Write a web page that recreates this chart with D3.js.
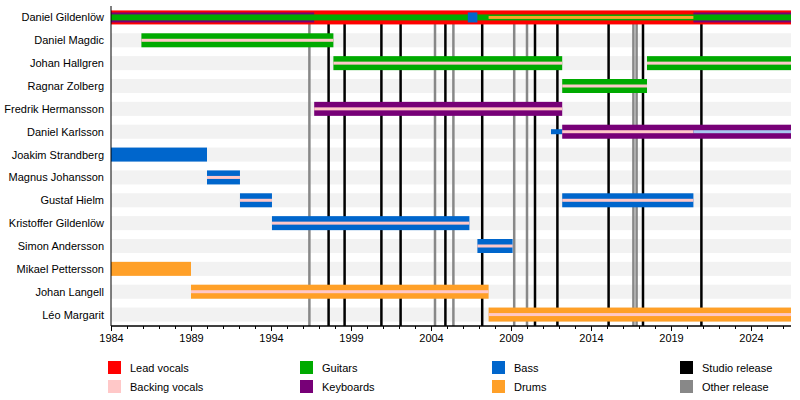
<!DOCTYPE html>
<html><head><meta charset="utf-8">
<script src="https://cdn.jsdelivr.net/npm/d3@7"></script>
<style>body{margin:0;background:#fff}text{font-family:"Liberation Sans",Arial,sans-serif;font-size:11px;fill:#000}</style>
</head><body><svg id="c" width="800" height="400"></svg>
<script>
const members=["Daniel Gildenlöw","Daniel Magdic","Johan Hallgren","Ragnar Zolberg","Fredrik Hermansson","Daniel Karlsson","Joakim Strandberg","Magnus Johansson","Gustaf Hielm","Kristoffer Gildenlöw","Simon Andersson","Mikael Pettersson","Johan Langell","Léo Margarit"];
const colors={lead:"#ff0000",backing:"#ffc8c8",guitars:"#00aa00",keys:"#770077",bass:"#0066cc",drums:"#ffa028",studio:"#000000",other:"#888888"};
// [member, role, start, end, layer]
const periods=[
 ["Daniel Gildenlöw","lead",1984,2026.5,0],
 ["Daniel Gildenlöw","keys",1984,1996.7,1],
 ["Daniel Gildenlöw","keys",2020.4,2026.5,1],
 ["Daniel Gildenlöw","guitars",1984,2026.5,2],
 ["Daniel Gildenlöw","bass",2006.3,2006.9,1],
 ["Daniel Gildenlöw","drums",2007.6,2020.4,3],
 ["Daniel Magdic","guitars",1985.9,1997.9,0],["Daniel Magdic","backing",1985.9,1997.9,3],
 ["Johan Hallgren","guitars",1997.9,2012.2,0],["Johan Hallgren","backing",1997.9,2012.2,3],
 ["Johan Hallgren","guitars",2017.5,2026.5,0],["Johan Hallgren","backing",2017.5,2026.5,3],
 ["Ragnar Zolberg","guitars",2012.2,2017.5,0],["Ragnar Zolberg","backing",2012.2,2017.5,3],
 ["Fredrik Hermansson","keys",1996.7,2012.2,0],["Fredrik Hermansson","backing",1996.7,2012.2,3],
 ["Daniel Karlsson","bass",2011.5,2012.2,4],
 ["Daniel Karlsson","keys",2012.2,2026.5,0],["Daniel Karlsson","backing",2012.2,2020.4,3],["Daniel Karlsson","backing",2020.4,2026.5,5],
 ["Joakim Strandberg","bass",1984,1990,0],
 ["Magnus Johansson","bass",1990,1992.06,0],["Magnus Johansson","backing",1990,1992.06,3],
 ["Gustaf Hielm","bass",1992.06,1994.06,0],["Gustaf Hielm","backing",1992.06,1994.06,3],
 ["Gustaf Hielm","bass",2012.2,2020.4,0],["Gustaf Hielm","backing",2012.2,2020.4,3],
 ["Kristoffer Gildenlöw","bass",1994.06,2006.4,0],["Kristoffer Gildenlöw","backing",1994.06,2006.4,3],
 ["Simon Andersson","bass",2006.9,2009.1,0],["Simon Andersson","backing",2006.9,2009.1,3],
 ["Mikael Pettersson","drums",1984,1989,0],
 ["Johan Langell","drums",1989,2007.6,0],["Johan Langell","backing",1989,2007.6,3],
 ["Léo Margarit","drums",2007.6,2026.5,0],["Léo Margarit","backing",2007.6,2026.5,3]
];
const studio=[1997.6,1998.6,2000.9,2002.1,2004.9,2007.2,2010.5,2011.9,2015.1,2017.25,2020.9];
const other=[1996.4,2004.25,2005.4,2009.2,2010.0,2016.65,2016.85];
const tickYears=[1984,1989,1994,1999,2004,2009,2014,2019,2024];
const legend=[["lead","Lead vocals"],["backing","Backing vocals"],["guitars","Guitars"],["keys","Keyboards"],["bass","Bass"],["drums","Drums"],["studio","Studio release"],["other","Other release"]];

const svg=d3.select("#c");
const x=d3.scaleLinear().domain([1984,2026.5]).range([111,791]);
const y=d3.scaleBand().domain(members).range([6,326]);
const cy=m=>y(m)+y.bandwidth()/2;
members.forEach((m,i)=>{ if(i>0) svg.append("rect").attr("x",111).attr("width",680).attr("y",cy(m)-7).attr("height",14).attr("fill","#f2f2f2");});
svg.selectAll("text.lab").data(members).join("text").attr("x",104).attr("y",m=>cy(m)+4).attr("text-anchor","end").text(m=>m);
svg.selectAll("line.o").data(other).join("line").attr("x1",d=>x(d)).attr("x2",d=>x(d)).attr("y1",22).attr("y2",326).attr("stroke",colors.other).attr("stroke-width",2.5);
svg.selectAll("line.s").data(studio).join("line").attr("x1",d=>x(d)).attr("x2",d=>x(d)).attr("y1",22).attr("y2",326).attr("stroke",colors.studio).attr("stroke-width",2.5);
const geo={0:[-7,14],1:[-5,10],2:[-3,6],3:[-1.5,3],4:[-2.5,5],5:[-1.5,3]};
svg.selectAll("rect.p").data(periods).join("rect")
 .attr("x",d=>x(d[2])).attr("width",d=>x(d[3])-x(d[2]))
 .attr("y",d=>cy(d[0])+geo[d[4]][0]).attr("height",d=>geo[d[4]][1])
 .attr("fill",d=>d[4]===5?"#a8c8f0":colors[d[1]]);
const ax=svg.append("g").attr("transform","translate(0,326)");
ax.call(d3.axisBottom(x).tickValues(d3.range(1984,2027)).tickSize(3).tickFormat(""));
ax.append("g").call(d3.axisBottom(x).tickValues(tickYears).tickSize(5).tickFormat(d3.format("d")));
ax.selectAll("path.domain").attr("d","M111,0H791").attr("stroke","#000");
ax.selectAll("text").style("font-size","11px").style("font-family","Liberation Sans, Arial, sans-serif").attr("fill","#000");
svg.append("line").attr("x1",111).attr("x2",111).attr("y1",6).attr("y2",326).attr("stroke","#000");
const lx=[108,300,492,680];
legend.forEach((l,i)=>{const c=Math.floor(i/2),r=i%2;
 svg.append("rect").attr("x",lx[c]).attr("y",361+r*19).attr("width",13).attr("height",13).attr("fill",colors[l[0]]);
 svg.append("text").attr("x",lx[c]+22).attr("y",372+r*19).text(l[1]);});
</script></body></html>
